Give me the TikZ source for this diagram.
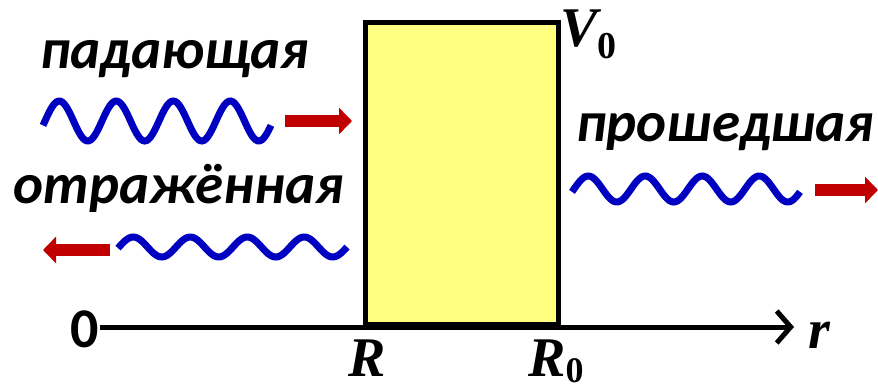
\documentclass[tikz,border=0pt]{standalone}
\usepackage{fontspec}
\setmainfont{Liberation Serif}
\newfontfamily\wordfont{Carlito}
\usepackage{xcolor}
\definecolor{barrierYellow}{HTML}{FFFF80}
\definecolor{waveBlue}{HTML}{0000C0}
\definecolor{flowRed}{HTML}{C00000}
\usetikzlibrary{arrows.meta, positioning}

\begin{document}
\begin{tikzpicture}[
		x=1pt, y=-1pt,
		barrier/.style={
			draw,
			fill=barrierYellow,
			line width=5pt,
			minimum width=193pt,
			minimum height=302pt,
			inner sep=0pt
		},
		wave/.style={draw=waveBlue, line width=7pt},
		flow/.style={draw=flowRed, line width=12pt, -{Triangle[length=13pt, width=26pt]}},
		raxis/.style={line width=5pt, -{Straight Barb[length=14pt, width=32pt, line width=5pt]}},
		lbl/.style={font=\wordfont\bfseries\itshape\fontsize{57}{66}\selectfont, anchor=base west, inner sep=0pt},
		sym/.style={font=\bfseries\itshape\fontsize{56}{66}\selectfont, anchor=base west, inner sep=0pt}
		]
		\useasboundingbox (0,0) rectangle (878,389);
		
		% barrier
		\node[barrier, anchor=south west] (bar) at (363,327) {};
		
		% r axis
		\coordinate (orig) at (100,327);
		\coordinate (rtip) at (794,327);
		\draw[raxis] (orig) -- (rtip);
		
		% labels
		\node[lbl, font=\wordfont\bfseries\fontsize{56}{66}\selectfont] (zero) at (70,347) {0};
		\node[sym] (rlab) at (808,348) {r};
		\node[sym] (Rlab) at (348,376) {R};
		\node[sym] (R0lab) at (528,376) {R\raisebox{-6pt}{\upshape\fontsize{36}{40}\selectfont 0}};
		\node[sym] (V0lab) at (560,46) {V\raisebox{-12pt}{\upshape\fontsize{38}{42}\selectfont 0}};
		
		\node[lbl] (inc) at (40,68) {падающая};
		\node[lbl] (refl) at (13,203) {отражённая};
		\node[lbl] (trans) at (576,141) {прошедшая};
		
		% waves
		\draw[wave] plot[domain=43:271, samples=120, smooth] (\x, {121-20*sin(6.3158*(\x-45))});
		\draw[wave] plot[domain=118:347, samples=120, smooth] (\x, {247-10*sin(6.3158*(\x-119))});
		\draw[wave] plot[domain=572:800, samples=120, smooth] (\x, {189-13*sin(6.3158*(\x-574))});
		
		% directions
		\coordinate (incA) at (285,121);
		\coordinate (incB) at (352,121);
		\coordinate (reflA) at (110,250);
		\coordinate (reflB) at (43,250);
		\coordinate (transA) at (815,190);
		\coordinate (transB) at (878,190);
		\draw[flow] (incA) -- (incB);
		\draw[flow] (reflA) -- (reflB);
		\draw[flow] (transA) -- (transB);
		
	\end{tikzpicture}
\end{document}
